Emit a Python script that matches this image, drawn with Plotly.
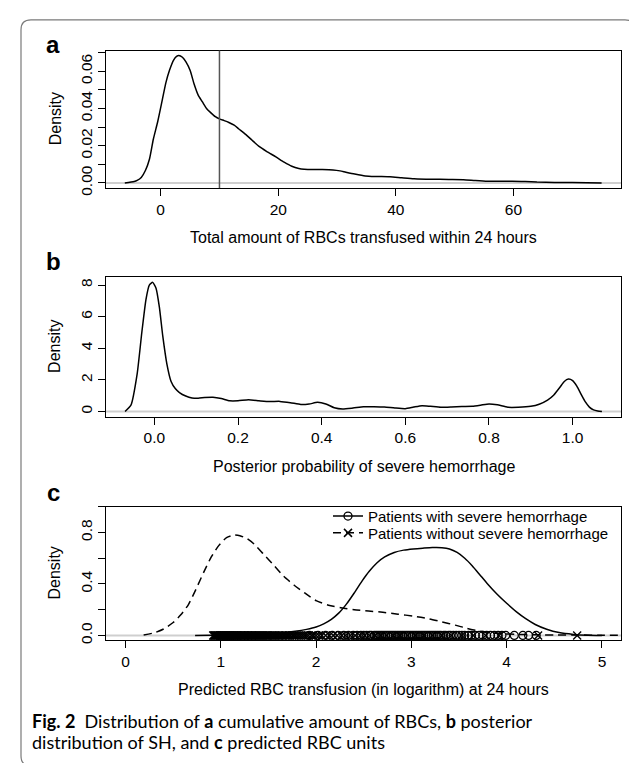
import plotly.graph_objects as go

W, H = 637, 763

# ---------------- data ----------------
# Panel a: density of total RBC units transfused within 24 h
a_x = [-6.1, -4.5, -4.0, -3.3, -2.6, -1.9, -1.25, -0.5, 0.3, 0.9, 1.5, 2.2, 2.7, 3.1, 3.7, 4.3,
       5.0, 5.7, 6.4, 7.1, 7.8, 8.5, 9.3, 10.0, 10.8, 11.6, 12.5, 13.3, 14.5, 15.6, 16.8, 18.0,
       19.6, 21.0, 22.3, 23.5, 24.4, 26.0, 27.5, 29.3, 30.5, 31.5, 33.0, 34.8, 36.5, 39.0, 41.0,
       43.1, 46.0, 49.0, 51.5, 53.5, 55.6, 57.5, 59.8, 62.0, 64.0, 67.0, 70.0, 75.0]
a_y = [0.0000, 0.0008, 0.0014, 0.0030, 0.0067, 0.0129, 0.0235, 0.0330, 0.0450, 0.0540, 0.0605,
       0.0660, 0.0680, 0.0685, 0.0675, 0.0650, 0.0605, 0.0530, 0.0470, 0.0435, 0.0400, 0.0378,
       0.0356, 0.0344, 0.0335, 0.0325, 0.0310, 0.0290, 0.0260, 0.0228, 0.0195, 0.0170, 0.0140,
       0.0112, 0.0090, 0.0078, 0.0074, 0.0072, 0.0072, 0.0070, 0.0065, 0.0058, 0.0048, 0.0038,
       0.0035, 0.0033, 0.0028, 0.0023, 0.0020, 0.0019, 0.0018, 0.0013, 0.0009, 0.0009, 0.0010,
       0.0008, 0.0005, 0.0003, 0.0002, 0.0000]
a_cutoff = 10
a_xticks = [0, 20, 40, 60]
a_yticks = [0, 0.01, 0.02, 0.03, 0.04, 0.05, 0.06, 0.07]
a_yticktext = ["0.00", "", "0.02", "", "0.04", "", "0.06", ""]

# Panel b: density of posterior probability of severe hemorrhage
b_x = [-0.070, -0.056, -0.041, -0.030, -0.020, -0.012, -0.004, 0.004, 0.012, 0.020, 0.030, 0.040,
       0.050, 0.060, 0.075, 0.090, 0.105, 0.120, 0.140, 0.160, 0.180, 0.200, 0.225, 0.250, 0.275,
       0.300, 0.325, 0.350, 0.370, 0.390, 0.410, 0.430, 0.450, 0.475, 0.500, 0.525, 0.550, 0.575,
       0.600, 0.620, 0.640, 0.660, 0.685, 0.710, 0.735, 0.760, 0.780, 0.800, 0.820, 0.845, 0.870,
       0.900, 0.920, 0.940, 0.955, 0.970, 0.980, 0.990, 1.000, 1.010, 1.020, 1.030, 1.040, 1.050,
       1.060, 1.070]
b_y = [0.00, 0.40, 2.40, 5.00, 7.10, 8.00, 8.17, 7.80, 6.60, 4.80, 3.00, 1.90, 1.45, 1.20, 0.98,
       0.86, 0.84, 0.88, 0.90, 0.82, 0.68, 0.68, 0.74, 0.68, 0.63, 0.64, 0.56, 0.44, 0.47, 0.58,
       0.48, 0.24, 0.16, 0.22, 0.30, 0.30, 0.28, 0.22, 0.18, 0.28, 0.37, 0.33, 0.27, 0.29, 0.32,
       0.33, 0.40, 0.48, 0.42, 0.27, 0.27, 0.33, 0.46, 0.72, 1.05, 1.55, 1.90, 2.05, 1.95, 1.60,
       1.10, 0.62, 0.28, 0.10, 0.03, 0.00]
b_xticks = [0.0, 0.2, 0.4, 0.6, 0.8, 1.0]
b_xticktext = ["0.0", "0.2", "0.4", "0.6", "0.8", "1.0"]
b_yticks = [0, 2, 4, 6, 8]

# Panel c: predicted RBC transfusion (log) by group
c_sh_x = [0.73, 0.90, 1.10, 1.30, 1.50, 1.65, 1.78, 1.90, 2.00, 2.08, 2.16, 2.24, 2.32, 2.40, 2.48,
          2.56, 2.64, 2.72, 2.82, 2.92, 3.02, 3.12, 3.22, 3.32, 3.40, 3.48, 3.56, 3.64, 3.72, 3.80,
          3.90, 4.00, 4.10, 4.20, 4.30, 4.42, 4.55, 4.70, 4.85, 5.00]
c_sh_y = [0.000, 0.001, 0.003, 0.007, 0.013, 0.021, 0.032, 0.047, 0.065, 0.090, 0.125, 0.175, 0.245,
          0.330, 0.420, 0.500, 0.565, 0.610, 0.645, 0.663, 0.672, 0.678, 0.683, 0.682, 0.672, 0.645,
          0.600, 0.540, 0.470, 0.400, 0.320, 0.250, 0.185, 0.130, 0.085, 0.048, 0.022, 0.008, 0.002,
          0.000]
c_nsh_x = [0.19, 0.30, 0.40, 0.50, 0.58, 0.66, 0.74, 0.82, 0.90, 0.98, 1.06, 1.14, 1.20, 1.27, 1.35,
           1.45, 1.55, 1.66, 1.77, 1.88, 2.00, 2.13, 2.26, 2.40, 2.55, 2.70, 2.86, 3.02, 3.18, 3.32,
           3.46, 3.58, 3.70, 3.82, 3.95, 4.10, 4.30, 4.50, 4.75, 5.00, 5.30]
c_nsh_y = [0.004, 0.020, 0.050, 0.100, 0.160, 0.240, 0.360, 0.490, 0.610, 0.700, 0.760, 0.780, 0.775,
           0.755, 0.710, 0.630, 0.550, 0.460, 0.390, 0.330, 0.270, 0.235, 0.215, 0.200, 0.190, 0.180,
           0.165, 0.150, 0.130, 0.105, 0.080, 0.055, 0.035, 0.022, 0.013, 0.008, 0.005, 0.003, 0.003,
           0.001, 0.000]
# individual predictions (rug)
c_nsh_pts = [0.92, 0.93, 0.935, 0.94, 0.95, 0.955, 0.96, 0.97, 0.975, 0.98, 0.99, 0.995, 1.00, 1.01,
             1.015, 1.02, 1.03, 1.035, 1.04, 1.05, 1.055, 1.06, 1.07, 1.075, 1.08, 1.09, 1.095, 1.10,
             1.11, 1.115, 1.12, 1.13, 1.135, 1.14, 1.15, 1.155, 1.16, 1.17, 1.175, 1.18, 1.19, 1.20,
             1.21, 1.215, 1.22, 1.23, 1.24, 1.245, 1.25, 1.26, 1.27, 1.28, 1.285, 1.29, 1.30, 1.31,
             1.32, 1.325, 1.33, 1.34, 1.35, 1.36, 1.37, 1.38, 1.39, 1.40, 1.41, 1.42, 1.43, 1.44,
             1.45, 1.46, 1.47, 1.48, 1.49, 1.50, 1.51, 1.52, 1.535, 1.55, 1.56, 1.57, 1.585, 1.60,
             1.61, 1.625, 1.64, 1.655, 1.67, 1.685, 1.70, 1.715, 1.73, 1.75, 1.765, 1.78, 1.80, 1.82,
             1.84, 1.86, 1.88, 1.90, 1.92, 1.95, 1.97, 2.00, 2.03, 2.06, 2.10, 2.14, 2.18, 2.22, 2.27,
             2.31, 2.36, 2.41, 2.46, 2.51, 2.56, 2.62, 2.68, 2.74, 2.81, 2.88, 2.96, 3.04, 3.13, 3.22,
             3.32, 3.42, 3.53, 3.65, 3.78, 3.92, 4.33, 4.74]
c_sh_pts = [1.93, 2.02, 2.10, 2.17, 2.23, 2.29, 2.34, 2.39, 2.43, 2.47, 2.50, 2.53, 2.56, 2.58, 2.61,
            2.63, 2.65, 2.67, 2.69, 2.71, 2.73, 2.75, 2.77, 2.79, 2.81, 2.83, 2.85, 2.87, 2.89, 2.91,
            2.93, 2.95, 2.97, 2.99, 3.01, 3.03, 3.05, 3.07, 3.09, 3.11, 3.13, 3.15, 3.17, 3.19, 3.21,
            3.23, 3.25, 3.27, 3.29, 3.31, 3.34, 3.36, 3.39, 3.41, 3.44, 3.47, 3.50, 3.53, 3.56, 3.60,
            3.63, 3.67, 3.71, 3.75, 3.79, 3.83, 3.87, 3.91, 3.95, 3.99, 4.08, 4.17, 4.23, 4.31]
c_xticks = [0, 1, 2, 3, 4, 5]
c_yticks = [0.0, 0.2, 0.4, 0.6, 0.8, 1.0]
c_yticktext = ["0.0", "", "0.4", "", "0.8", ""]

series_names = ["Patients with severe hemorrhage", "Patients without severe hemorrhage"]
x_titles = ["Total amount of RBCs transfused within 24 hours",
            "Posterior probability of severe hemorrhage",
            "Predicted RBC transfusion (in logarithm) at 24 hours"]
panel_letters = ["a", "b", "c"]

# ---------------- layout helpers (pixels) ----------------
BOX_L, BOX_R = 98, 613
PANELS = [(43, 182), (272, 413), (504, 639)]  # top, bottom in px


def px_x(p):
    return p / W


def px_y(p):
    return 1 - p / H


FONT = "Liberation Sans, Arial, Helvetica, sans-serif"
FS_TICK = 15.5
FS_TITLE = 16
FS_LEG = 15

fig = go.Figure()
LW = 1.5

# Panel a
fig.add_trace(go.Scatter(x=a_x, y=a_y, mode="lines", xaxis="x", yaxis="y",
                         line=dict(color="black", width=LW, shape="spline", smoothing=0.6),
                         showlegend=False, hoverinfo="skip"))
# Panel b
fig.add_trace(go.Scatter(x=b_x, y=b_y, mode="lines", xaxis="x2", yaxis="y2",
                         line=dict(color="black", width=LW, shape="spline", smoothing=0.5),
                         showlegend=False, hoverinfo="skip"))
# Panel c curves
fig.add_trace(go.Scatter(x=c_nsh_x, y=c_nsh_y, mode="lines", xaxis="x3", yaxis="y3",
                         line=dict(color="black", width=LW, dash="8px,5px", shape="spline", smoothing=0.6),
                         showlegend=False, hoverinfo="skip"))
fig.add_trace(go.Scatter(x=c_sh_x, y=c_sh_y, mode="lines", xaxis="x3", yaxis="y3",
                         line=dict(color="black", width=LW, shape="spline", smoothing=0.6),
                         showlegend=False, hoverinfo="skip"))
# rug points
fig.add_trace(go.Scatter(x=c_nsh_pts, y=[0] * len(c_nsh_pts), mode="markers", xaxis="x3", yaxis="y3",
                         marker=dict(symbol="x-thin-open", size=8, color="black",
                                     line=dict(color="black", width=1.3)),
                         showlegend=False, hoverinfo="skip", cliponaxis=False))
fig.add_trace(go.Scatter(x=c_sh_pts, y=[0] * len(c_sh_pts), mode="markers", xaxis="x3", yaxis="y3",
                         marker=dict(symbol="circle-open", size=8, color="black",
                                     line=dict(color="black", width=1.2)),
                         showlegend=False, hoverinfo="skip", cliponaxis=False))
# legend entries (one legend per row so the rows can sit as tightly as in the original)
fig.add_trace(go.Scatter(x=[None], y=[None], mode="lines+markers", xaxis="x3", yaxis="y3",
                         name=series_names[0], legend="legend",
                         line=dict(color="black", width=LW),
                         marker=dict(symbol="circle-open", size=8, color="black",
                                     line=dict(color="black", width=1.3))))
fig.add_trace(go.Scatter(x=[None], y=[None], mode="lines+markers", xaxis="x3", yaxis="y3",
                         name=series_names[1], legend="legend2",
                         line=dict(color="black", width=LW, dash="8px,5px"),
                         marker=dict(symbol="x-thin-open", size=8, color="black",
                                     line=dict(color="black", width=1.5))))

axis_common = dict(showline=True, mirror=True, linecolor="black", linewidth=1.2,
                   ticks="outside", ticklen=7, tickwidth=1.2, tickcolor="black",
                   showgrid=False, zeroline=False, ticklabelstandoff=0,
                   tickfont=dict(family=FONT, size=FS_TICK, color="black"))


def dom_y(i):
    t, b = PANELS[i]
    return [px_y(b), px_y(t)]


xdom = [px_x(BOX_L), px_x(BOX_R)]

fig.update_layout(
    xaxis=dict(domain=xdom, anchor="y", range=[-9.3, 78.3], tickvals=a_xticks, **axis_common),
    yaxis=dict(domain=dom_y(0), anchor="x", range=[-0.00274, 0.0711], tickvals=a_yticks,
               ticktext=a_yticktext, tickangle=-90, **axis_common),
    xaxis2=dict(domain=xdom, anchor="y2", range=[-0.1156, 1.1156], tickvals=b_xticks,
                ticktext=b_xticktext, **axis_common),
    yaxis2=dict(domain=dom_y(1), anchor="x2", range=[-0.327, 8.5], tickvals=b_yticks,
                tickangle=-90, **axis_common),
    xaxis3=dict(domain=xdom, anchor="y3", range=[-0.205, 5.2], tickvals=c_xticks, **axis_common),
    yaxis3=dict(domain=dom_y(2), anchor="x3", range=[-0.038, 1.0005], tickvals=c_yticks,
                ticktext=c_yticktext, tickangle=-90, **axis_common),
)

shapes = []
# grey zero lines
for xr, yr in (("x domain", "y"), ("x2 domain", "y2"), ("x3 domain", "y3")):
    shapes.append(dict(type="line", xref=xr, yref=yr, x0=0, x1=1, y0=0, y1=0,
                       line=dict(color="#cfcfcf", width=2), layer="below"))
# cutoff line in panel a
shapes.append(dict(type="line", xref="x", yref="y domain", x0=a_cutoff, x1=a_cutoff, y0=0, y1=1,
                   line=dict(color="#555555", width=1.5)))
# rounded border around the figure (bottom edge runs just off the page)
bx0, bx1, by0, by1, r = 13, 627, 12, 766, 10
X0, X1 = px_x(bx0), px_x(bx1)
Y0, Y1 = px_y(by0), px_y(by1)
rx, ry = r / W, r / H
path = (f"M {X0 + rx},{Y0} L {X1 - rx},{Y0} Q {X1},{Y0} {X1},{Y0 - ry} "
        f"L {X1},{Y1 + ry} Q {X1},{Y1} {X1 - rx},{Y1} "
        f"L {X0 + rx},{Y1} Q {X0},{Y1} {X0},{Y1 + ry} "
        f"L {X0},{Y0 - ry} Q {X0},{Y0} {X0 + rx},{Y0} Z")
shapes.append(dict(type="path", xref="paper", yref="paper", path=path,
                   line=dict(color="#7a7a7a", width=1.2)))
fig.update_layout(shapes=shapes)

ann = []
title_y = [232, 463, 689]
letter_y = [37, 256, 490]
for i in range(3):
    t, b = PANELS[i]
    ann.append(dict(text=x_titles[i], x=px_x((BOX_L + BOX_R) / 2), y=px_y(title_y[i]),
                    xref="paper", yref="paper", showarrow=False, xanchor="center", yanchor="middle",
                    font=dict(family=FONT, size=FS_TITLE, color="black")))
    ann.append(dict(text="Density", x=px_x(47), y=px_y((t + b) / 2), textangle=-90,
                    xref="paper", yref="paper", showarrow=False, xanchor="center", yanchor="middle",
                    font=dict(family=FONT, size=FS_TITLE, color="black")))
    ann.append(dict(text=f"<b>{panel_letters[i]}</b>", x=px_x(45), y=px_y(letter_y[i]),
                    xref="paper", yref="paper", showarrow=False, xanchor="center", yanchor="middle",
                    font=dict(family=FONT, size=24, color="black")))

CAP_FONT = "Lato, Open Sans, sans-serif"
CAP_FS = 18
ann.append(dict(text="<b>Fig. 2</b>\u00a0\u00a0Distribution of <b>a</b> cumulative amount of RBCs, <b>b</b> posterior",
                x=px_x(22), y=px_y(721), xref="paper", yref="paper", showarrow=False,
                xanchor="left", yanchor="middle", font=dict(family=CAP_FONT, size=CAP_FS, color="black")))
ann.append(dict(text="distribution of SH, and <b>c</b> predicted RBC units",
                x=px_x(22), y=px_y(742), xref="paper", yref="paper", showarrow=False,
                xanchor="left", yanchor="middle", font=dict(family=CAP_FONT, size=CAP_FS, color="black")))
fig.update_layout(annotations=ann)

leg_common = dict(xanchor="left", yanchor="top", bgcolor="rgba(0,0,0,0)", borderwidth=0,
                  font=dict(family=FONT, size=FS_LEG, color="black"), itemwidth=30)
fig.update_layout(
    width=W, height=H, margin=dict(l=0, r=0, t=0, b=0),
    paper_bgcolor="white", plot_bgcolor="white",
    showlegend=True,
    legend=dict(x=px_x(320), y=px_y(497), **leg_common),
    legend2=dict(x=px_x(320), y=px_y(514), **leg_common),
)

fig.write_html("out.html")
